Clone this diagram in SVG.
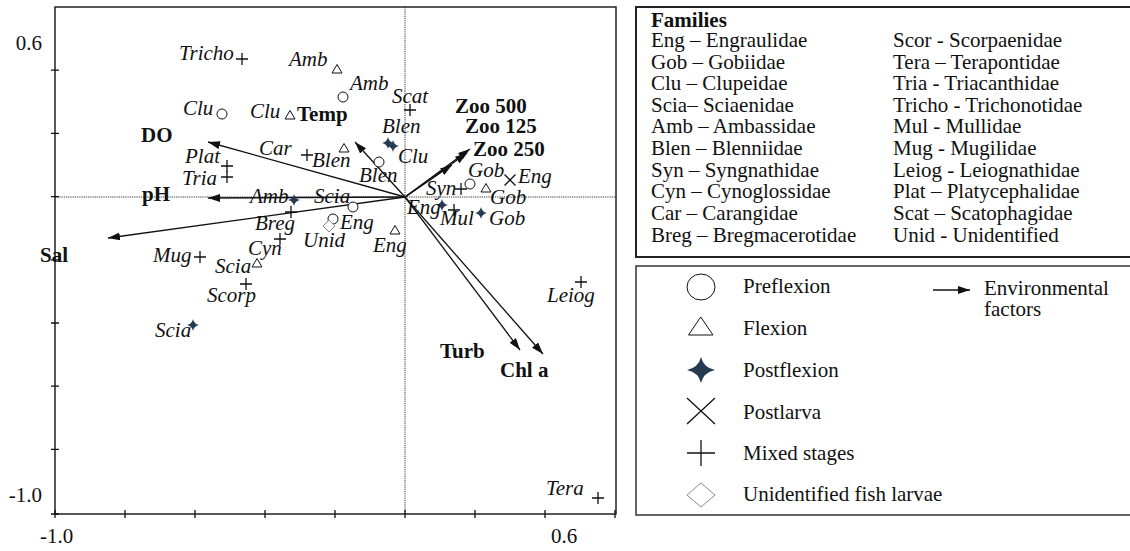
<svg xmlns="http://www.w3.org/2000/svg" xmlns:xlink="http://www.w3.org/1999/xlink" width="1130" height="551" viewBox="0 0 1130 551">
<style>
.lab{font-family:"Liberation Serif",serif;font-size:21px;font-style:italic;fill:#111}
.env{font-family:"Liberation Serif",serif;font-size:21px;font-weight:bold;fill:#111}
.txt{font-family:"Liberation Serif",serif;font-size:21px;fill:#111}
.sym{fill:#fff;stroke:#111;stroke-width:1}
.ln{fill:none;stroke:#111;stroke-width:1.3}
.arr{fill:none;stroke:#111;stroke-width:1.3;marker-end:url(#ah)}
.dot{fill:none;stroke:#333;stroke-width:1;stroke-dasharray:1.2 1}
.frame{fill:none;stroke:#222;stroke-width:1.5}
</style>
<defs>
<marker id="ah" markerUnits="userSpaceOnUse" markerWidth="14" markerHeight="10" refX="12" refY="4" orient="auto"><path d="M0,0 L12,4 L0,8 Z" fill="#111"/></marker>
<circle id="c" r="5" class="sym"/>
<path id="tri" d="M0,-4.5 L5,4 L-5,4 Z" class="sym"/>
<path id="plus" d="M-6,0 H6 M0,-6 V6" class="ln"/>
<path id="xm" d="M-5.5,-5.5 L5.5,5.5 M5.5,-5.5 L-5.5,5.5" class="ln"/>
<path id="star" d="M0,-6 Q1,-1 6,0 Q1,1 0,6 Q-1,1 -6,0 Q-1,-1 0,-6 Z" fill="#253b52"/>
<path id="dia" d="M0,-6 L6,0 L0,6 L-6,0 Z" fill="#fff" stroke="#888" stroke-width="1"/>
</defs>
<rect width="1130" height="551" fill="#fff"/>

<g id="axes">
<path class="dot" d="M55,197 H616 M405,7 V514"/>
<rect class="frame" x="55" y="7" width="561" height="507"/>
<path class="ln" d="M51,70.2 H59 M51,133.4 H59 M51,196.6 H59 M51,259.8 H59 M51,323 H59 M51,386.2 H59 M51,449.4 H59 M51,514 H59"/>
<path class="ln" d="M55,510 V518 M125,510 V518 M195,510 V518 M265,510 V518 M335,510 V518 M405,510 V518 M475,510 V518 M545,510 V518 M615,510 V518"/>
<text class="txt" x="42" y="50" text-anchor="end">0.6</text>
<text class="txt" x="42" y="502" text-anchor="end">-1.0</text>
<text class="txt" x="40" y="543">-1.0</text>
<text class="txt" x="551" y="543">0.6</text>
</g>

<g id="connectors">
<line class="arr" x1="405" y1="197" x2="355" y2="142"/>
<line class="arr" x1="405" y1="197" x2="208" y2="142"/>
<line class="arr" x1="405" y1="197" x2="208" y2="198"/>
<line class="arr" x1="405" y1="197" x2="108" y2="238"/>
<line class="arr" x1="405" y1="197" x2="470" y2="149"/>
<line class="arr" x1="405" y1="197" x2="467" y2="153"/>
<line class="arr" x1="405" y1="197" x2="452" y2="165"/>
<line class="arr" x1="405" y1="197" x2="520" y2="350"/>
<line class="arr" x1="405" y1="197" x2="543" y2="354"/>
</g>

<g id="env-labels">
<text class="env" x="297" y="121">Temp</text>
<text class="env" x="141" y="142">DO</text>
<text class="env" x="142" y="201">pH</text>
<text class="env" x="40" y="262">Sal</text>
<text class="env" x="455" y="113">Zoo 500</text>
<text class="env" x="465" y="133">Zoo 125</text>
<text class="env" x="473" y="156">Zoo 250</text>
<text class="env" x="440" y="358">Turb</text>
<text class="env" x="500" y="377">Chl a</text>
</g>

<g id="n-tricho"><use href="#plus" x="242" y="59"/><text class="lab" x="179" y="60">Tricho</text></g>
<g id="n-amb1"><use href="#tri" x="337" y="69"/><text class="lab" x="289" y="66">Amb</text></g>
<g id="n-amb2"><use href="#c" x="343" y="97"/><text class="lab" x="350" y="90">Amb</text></g>
<g id="n-clu1"><use href="#c" x="222" y="114"/><text class="lab" x="183" y="115">Clu</text></g>
<g id="n-clu2"><use href="#tri" x="290" y="115"/><text class="lab" x="250" y="118">Clu</text></g>
<g id="n-scat"><use href="#plus" x="410" y="110"/><text class="lab" x="392" y="103">Scat</text></g>
<g id="n-car"><use href="#plus" x="307" y="155"/><text class="lab" x="259" y="155">Car</text></g>
<g id="n-blen1"><use href="#tri" x="344" y="148"/><text class="lab" x="312" y="167">Blen</text></g>
<g id="n-blen2"><use href="#star" x="388" y="143"/><use href="#star" x="393" y="146"/><text class="lab" x="382" y="133">Blen</text></g>
<g id="n-clu3"><use href="#c" x="379" y="162"/><text class="lab" x="398" y="163">Clu</text></g>
<g id="n-blen3"><text class="lab" x="359" y="182">Blen</text></g>
<g id="n-plat"><use href="#plus" x="227" y="166"/><text class="lab" x="185" y="163">Plat</text></g>
<g id="n-tria"><use href="#plus" x="227" y="177"/><text class="lab" x="182" y="185">Tria</text></g>
<g id="n-amb3"><use href="#star" x="294" y="200"/><text class="lab" x="250" y="203">Amb</text></g>
<g id="n-scia1"><use href="#c" x="353" y="207"/><text class="lab" x="314" y="203">Scia</text></g>
<g id="n-breg"><use href="#plus" x="291" y="212"/><text class="lab" x="255" y="230">Breg</text></g>
<g id="n-eng1"><use href="#c" x="333" y="219"/><text class="lab" x="340" y="229">Eng</text></g>
<g id="n-unid"><use href="#dia" x="329" y="226"/><text class="lab" x="303" y="247">Unid</text></g>
<g id="n-eng2"><use href="#tri" x="395" y="230"/><text class="lab" x="373" y="252">Eng</text></g>
<g id="n-cyn"><use href="#plus" x="280" y="239"/><text class="lab" x="248" y="255">Cyn</text></g>
<g id="n-mug"><use href="#plus" x="200" y="257"/><text class="lab" x="153" y="262">Mug</text></g>
<g id="n-scia2"><use href="#tri" x="257" y="263"/><text class="lab" x="215" y="273">Scia</text></g>
<g id="n-scorp"><use href="#plus" x="246" y="284"/><text class="lab" x="207" y="302">Scorp</text></g>
<g id="n-scia3"><use href="#star" x="193" y="325"/><text class="lab" x="155" y="337">Scia</text></g>
<g id="n-gob1"><use href="#c" x="470" y="184"/><text class="lab" x="468" y="177">Gob</text></g>
<g id="n-eng3"><use href="#xm" x="510" y="180"/><text class="lab" x="518" y="183">Eng</text></g>
<g id="n-syn"><use href="#plus" x="461" y="189"/><text class="lab" x="426" y="195">Syn</text></g>
<g id="n-gob2"><use href="#tri" x="486" y="188"/><text class="lab" x="490" y="204">Gob</text></g>
<g id="n-eng4"><use href="#star" x="442" y="205"/><text class="lab" x="407" y="214">Eng</text></g>
<g id="n-mul"><use href="#plus" x="454" y="210"/><text class="lab" x="440" y="225">Mul</text></g>
<g id="n-gob3"><use href="#star" x="481" y="213"/><text class="lab" x="489" y="225">Gob</text></g>
<g id="n-leiog"><use href="#plus" x="581" y="282"/><text class="lab" x="547" y="302">Leiog</text></g>
<g id="n-tera"><use href="#plus" x="598" y="498"/><text class="lab" x="546" y="495">Tera</text></g>

<g id="legend-families">
<rect x="636" y="7" width="500" height="250" fill="none" stroke="#222" stroke-width="2"/>
<text class="env" x="651" y="27">Families</text>
<text class="txt" x="651" y="47">Eng – Engraulidae</text>
<text class="txt" x="651" y="68.5">Gob – Gobiidae</text>
<text class="txt" x="651" y="90">Clu – Clupeidae</text>
<text class="txt" x="651" y="111.5">Scia– Sciaenidae</text>
<text class="txt" x="651" y="133">Amb – Ambassidae</text>
<text class="txt" x="651" y="155">Blen – Blenniidae</text>
<text class="txt" x="651" y="176.5">Syn – Syngnathidae</text>
<text class="txt" x="651" y="198">Cyn – Cynoglossidae</text>
<text class="txt" x="651" y="220">Car – Carangidae</text>
<text class="txt" x="651" y="241.5">Breg – Bregmacerotidae</text>
<text class="txt" x="893" y="47">Scor - Scorpaenidae</text>
<text class="txt" x="893" y="68.5">Tera – Terapontidae</text>
<text class="txt" x="893" y="90">Tria - Triacanthidae</text>
<text class="txt" x="893" y="111.5">Tricho - Trichonotidae</text>
<text class="txt" x="893" y="133">Mul - Mullidae</text>
<text class="txt" x="893" y="155">Mug - Mugilidae</text>
<text class="txt" x="893" y="176.5">Leiog - Leiognathidae</text>
<text class="txt" x="893" y="198">Plat – Platycephalidae</text>
<text class="txt" x="893" y="220">Scat – Scatophagidae</text>
<text class="txt" x="893" y="241.5">Unid - Unidentified</text>
</g>

<g id="legend-stages">
<rect x="636" y="266" width="500" height="249" fill="none" stroke="#333" stroke-width="1.5"/>
<ellipse cx="701" cy="287" rx="14" ry="13" class="sym"/>
<text class="txt" x="743" y="293">Preflexion</text>
<path d="M688.5,335 L713,335 L700.7,317 Z" class="sym"/>
<text class="txt" x="743" y="335">Flexion</text>
<path d="M701,357 Q703.5,367.5 715,370 Q703.5,372.5 701,383 Q698.5,372.5 687,370 Q698.5,367.5 701,357 Z" fill="#253b52"/>
<text class="txt" x="743" y="377">Postflexion</text>
<path d="M687,398 L715,424 M715,398 L687,424" class="ln"/>
<text class="txt" x="743" y="419">Postlarva</text>
<path d="M687,453 H715 M701,440 V466" class="ln"/>
<text class="txt" x="743" y="460">Mixed stages</text>
<path d="M701,483 L715,495 L701,507 L687,495 Z" fill="#fff" stroke="#888" stroke-width="1"/>
<text class="txt" x="743" y="501">Unidentified fish larvae</text>
<line class="arr" x1="933" y1="290" x2="970" y2="290"/>
<text class="txt" x="984" y="295">Environmental</text>
<text class="txt" x="984" y="316">factors</text>
</g>
</svg>
